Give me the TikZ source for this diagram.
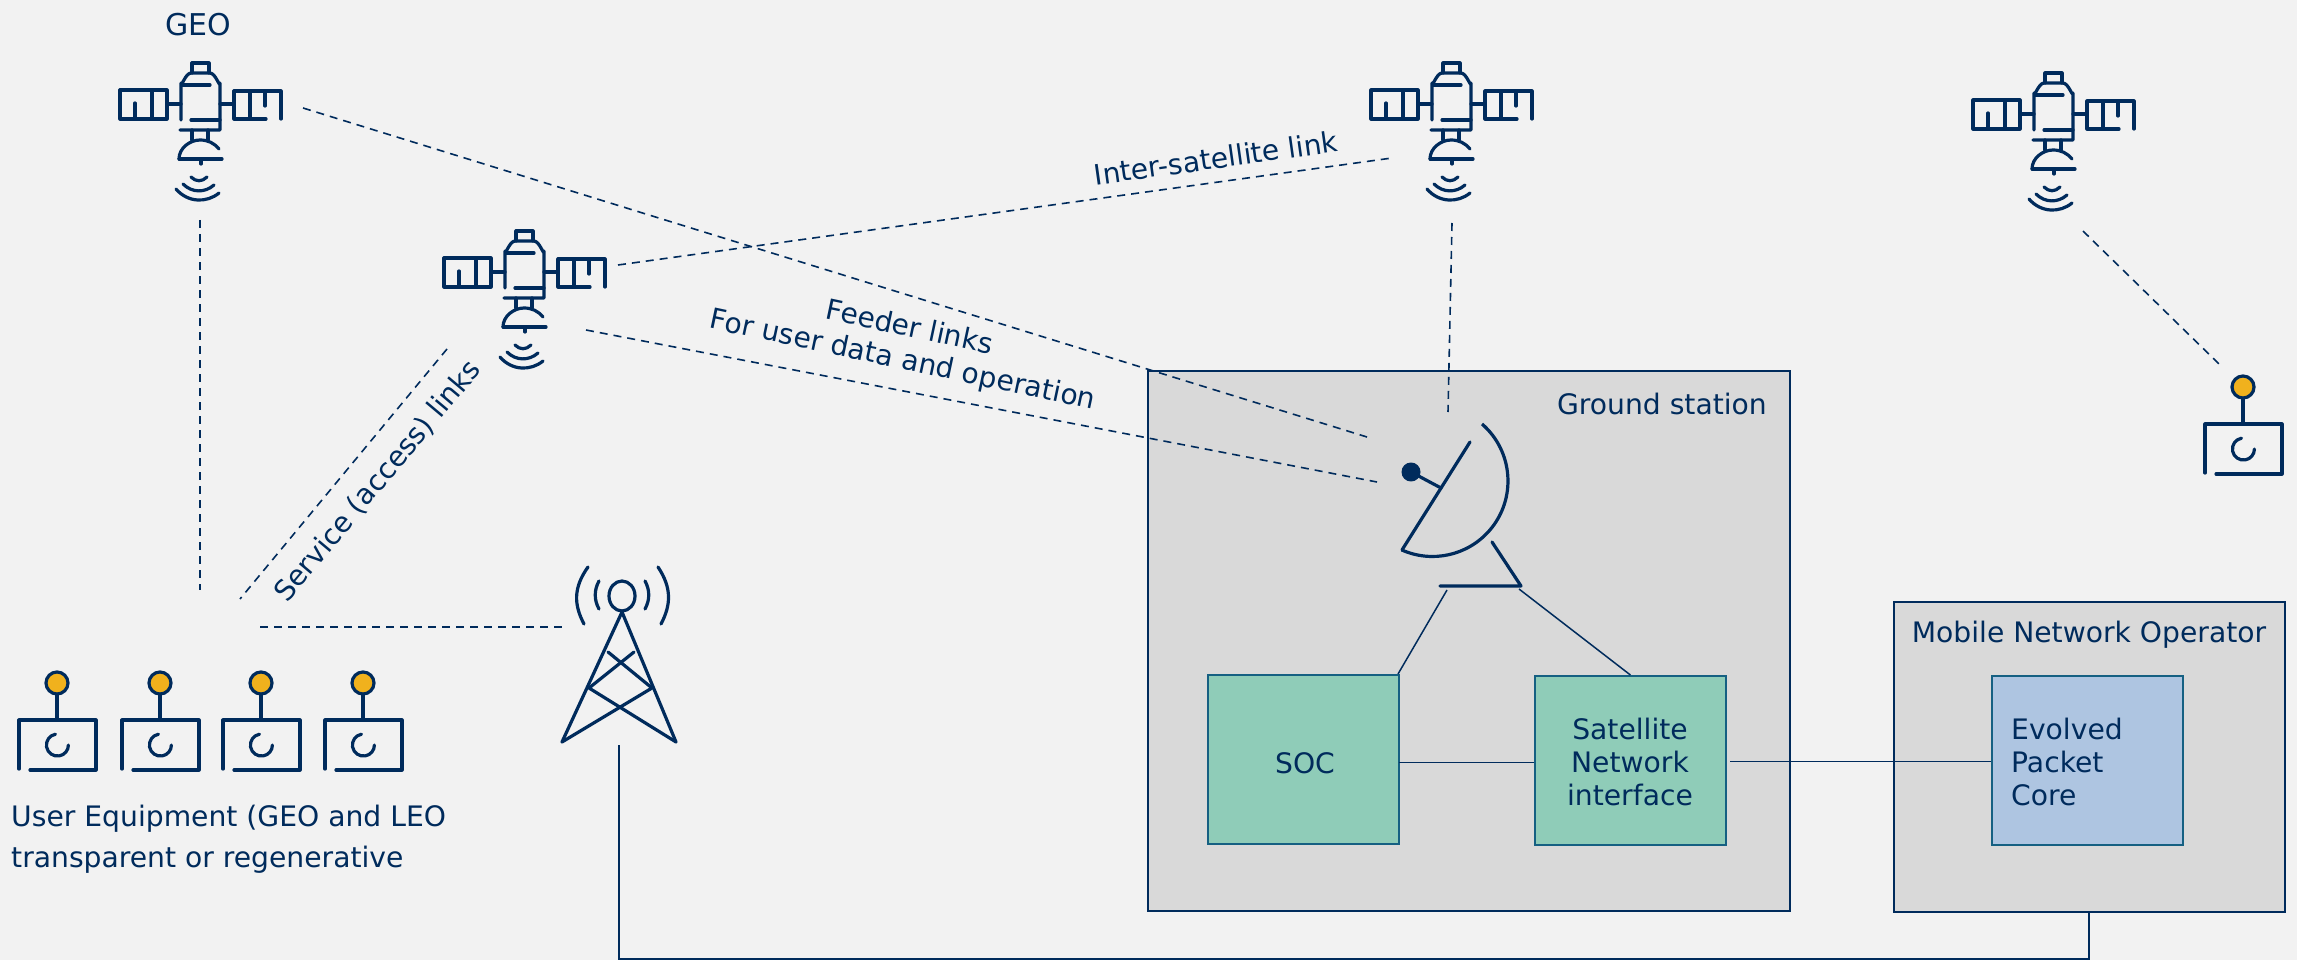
\documentclass[tikz,border=0pt]{standalone}
\usepackage{fontspec}
\setmainfont{DejaVu Sans}
\definecolor{navy}{HTML}{002B5C}
\definecolor{bgc}{HTML}{F2F2F2}
\definecolor{grayc}{HTML}{D9D9D9}
\definecolor{tealc}{HTML}{8FCCB8}
\definecolor{bluec}{HTML}{AEC5E1}
\definecolor{orangec}{HTML}{F0B11D}
\definecolor{edgec}{HTML}{156082}
\tikzset{
  icon/.style={draw=navy,line width=3.2pt,line cap=round,line join=round},
  dashline/.style={draw=navy,line width=1.6pt,dash pattern=on 8pt off 6pt},
  link/.style={draw=navy,line width=1.5pt},
  panelbox/.style={draw=navy,line width=2.4pt,fill=grayc,inner sep=0pt},
  unitbox/.style={draw=edgec,line width=1.8pt,inner sep=0pt,minimum width=191pt,minimum height=169pt,anchor=north west},
  lbl/.style={text=navy,font=\fontsize{28.2}{33}\selectfont,inner sep=0pt},
  sat/.pic={
    \draw[icon] (81,80)--(81,43) to[out=-90,in=180] (91,33)--(110,33) to[out=0,in=-90] (120,43)--(120,90)--(80,90);
    \draw[icon] (91,80)--(120,80) (82,45)--(110,45);
    \draw[icon] (92,33)--(92,23)--(109,23)--(109,33);
    \draw[icon] (20,50) rectangle (67,79);
    \draw[icon] (35,63)--(35,79) (52,50)--(52,79) (67,64)--(81,64) (120,64)--(134,64);
    \draw[icon] (166,79)--(134,79)--(134,51)--(181,51)--(181,79);
    \draw[icon] (150,51)--(150,79) (165,51)--(165,66);
    \draw[icon] (92,90)--(92,100) (108,90)--(108,100);
    \draw[icon] (79,119) .. controls (79,108) and (90,100) .. (100,100) .. controls (108,100) and (114,103) .. (119,109);
    \draw[icon] (79,119)--(122,119);
    \draw[icon] (101,119)--(101,124);
    \draw[icon] (91,137) .. controls (96,142) and (102,142) .. (107,137);
    \draw[icon] (83,144) .. controls (92,153) and (105,153) .. (114,145);
    \draw[icon] (76,149) .. controls (88,163) and (107,163) .. (119,153);
  },
  ue/.pic={
    \draw[icon] (19,769)--(19,720)--(96,720)--(96,770)--(30,770);
    \draw[icon] (57,694)--(57,720);
    \draw[icon,fill=orangec] (57,683) circle (11);
    \draw[icon] (55.5,734.2) arc[start angle=-100,end angle=-360,radius=11];
  }
}
\begin{document}
\begin{tikzpicture}[x=1pt,y=-1pt]
\useasboundingbox (0,0) rectangle (2297,960);
\fill[bgc] (0,0) rectangle (2297,960);
% panels
\node[panelbox,minimum width=642pt,minimum height=540pt,anchor=north west] (gs) at (1147,370) {};
\node[panelbox,minimum width=391pt,minimum height=310pt,anchor=north west] (mno) at (1893,601) {};
\node[lbl,anchor=north east] (gslbl) at (1767,393) {Ground station};
\node[lbl,anchor=north] (mnolbl) at (2089,621) {Mobile Network Operator};
\node[unitbox,fill=tealc] (soc) at (1207,674) {};
\node[unitbox,fill=tealc] (sni) at (1534,675) {};
\node[unitbox,fill=bluec] (epc) at (1991,675) {};
\node[lbl] (soclbl) at (1305,763) {SOC};
\node[lbl,align=center] (snilbl) at (1630,762) {Satellite\\Network\\interface};
\node[lbl,align=left,anchor=west] (epclbl) at (2011,762) {Evolved\\Packet\\Core};
% satellites
\pic at (100,40) {sat};
\pic at (424,208) {sat};
\pic at (1351,40) {sat};
\pic at (1953,50) {sat};
% UEs
\pic at (0,0) {ue};
\pic at (103,0) {ue};
\pic at (204,0) {ue};
\pic at (306,0) {ue};
\pic at (2186,-296) {ue};
% tower
\draw[icon] (622,596) ellipse (13 and 15);
\draw[icon] (562,742)--(622,612)--(676,742);
\draw[icon] (562,742)--(652,688)--(608,652);
\draw[icon] (676,742)--(589,688)--(634,652);
\draw[icon] (599,581) .. controls (594,590) and (594,600) .. (599,609);
\draw[icon] (645,581) .. controls (650,590) and (650,600) .. (645,609);
\draw[icon] (588,567) .. controls (573,588) and (574,605) .. (584,624);
\draw[icon] (658,567) .. controls (672,588) and (671,605) .. (661,624);
% dish
\draw[icon,line cap=butt] (1482,424) arc[start angle=-49,end angle=114,radius=75.5];
\draw[icon] (1470,442)--(1402,550);
\draw[icon,fill=navy,line width=1pt] (1411,472) circle (9);
\draw[icon] (1411,472)--(1441,488);
\draw[icon] (1492,542)--(1521,586)--(1440,586);
% links
\coordinate (g1) at (303,108); \coordinate (g2) at (1367,437);
\draw[dashline] (g1)--(g2);
\coordinate (f1) at (586,330); \coordinate (f2) at (1377,482);
\draw[dashline] (f1)--(f2);
\coordinate (i1) at (618,265); \coordinate (i2) at (1392,158);
\draw[dashline] (i1)--(i2);
\coordinate (v1) at (200,220); \coordinate (v2) at (200,590);
\draw[dashline] (v1)--(v2);
\coordinate (s1) at (447,349); \coordinate (s2) at (240,599);
\draw[dashline] (s1)--(s2);
\coordinate (h1) at (260,627); \coordinate (h2) at (562,627);
\draw[dashline] (h1)--(h2);
\coordinate (w1) at (1452,223); \coordinate (w2) at (1448,412);
\draw[dashline] (w1)--(w2);
\coordinate (u1) at (2083,231); \coordinate (u2) at (2220,365);
\draw[dashline] (u1)--(u2);
\coordinate (d1) at (1447,590); \coordinate (d2) at (1519,589);
\coordinate (d3) at (1398,674);
\draw[link] (d1)--(d3);
\draw[link] (d2)--(sni.north);
\coordinate (m1) at (1399,762.3);
\draw[link] (m1)--(m1 -| sni.west);
\coordinate (n1) at (1730,761.3);
\draw[link] (n1)--(n1 -| epc.west);
\coordinate (t1) at (619,745); \coordinate (t2) at (619,959); \coordinate (t3) at (2089,959);
\draw[link] (t1)--(t2)--(t3)--(t3 |- mno.south);
% labels
\node[lbl,font=\fontsize{30}{36}\selectfont] (geo) at (198,25) {GEO};
\node[lbl,rotate=8,anchor=center] (isl) at (1216,158) {Inter-satellite link};
\node[lbl,rotate=-12,anchor=center,align=center] (feed) at (906,345) {Feeder links\\For user data and operation};
\node[lbl,rotate=50,anchor=center] (svc) at (378,481) {Service (access) links};
\node[lbl,align=left,anchor=north west,font=\fontsize{28.2}{41}\selectfont] (uelbl) at (11,805) {User Equipment (GEO and LEO\\transparent or regenerative};
\end{tikzpicture}
\end{document}
